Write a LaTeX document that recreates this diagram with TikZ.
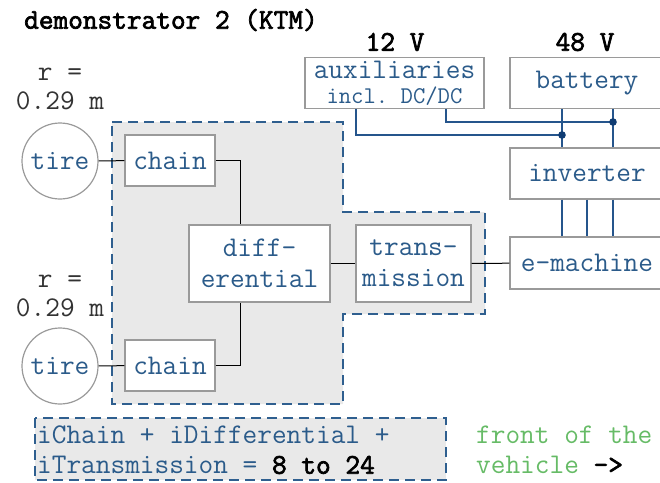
\documentclass[tikz,border=0pt]{standalone}
\usepackage{fontspec}
\setmonofont{Latin Modern Mono}[AutoFakeBold=2.5]
\definecolor{txtblue}{HTML}{2B5B8A}
\definecolor{lineblue}{HTML}{25558C}
\definecolor{dotblue}{HTML}{0F3C73}
\definecolor{boxgray}{HTML}{9A9A9A}
\definecolor{fillgray}{HTML}{E9E9E9}
\definecolor{dashblue}{HTML}{2F5F8F}
\definecolor{frontgreen}{HTML}{66BB66}
\newcommand{\bigmono}{\ttfamily\fontsize{28.5}{33}\selectfont}
\newcommand{\smallmono}{\fontsize{24}{27}\selectfont}
\tikzset{
  blk/.style={draw=boxgray, line width=1.2pt, fill=white, text=txtblue, inner sep=0pt, align=center},
  tirec/.style={circle, draw=boxgray, line width=1.2pt, fill=white, text=txtblue, minimum size=76pt, inner sep=0pt},
  region/.style={draw=dashblue, line width=1.6pt, fill=fillgray, dash pattern=on 10pt off 6pt},
  mech/.style={draw=black, line width=1pt},
  elec/.style={draw=lineblue, line width=1.3pt},
  lbl/.style={inner sep=0pt, text=black!80, align=center},
  volt/.style={inner sep=0pt, font=\bigmono\bfseries}
}
\begin{document}
\begin{tikzpicture}[x=1pt,y=-1pt, font=\bigmono]
\useasboundingbox (0,0) rectangle (660,482);
\begin{scope}
\clip (0,0) rectangle (660,482);
% regions
\draw[region] (112,122) -- (343,122) -- (343,212) -- (485,212) -- (485,314) -- (343,314) -- (343,404) -- (112,404) -- cycle;
\draw[region] (35,418) rectangle (446,480);
% title and labels
\node[anchor=west, inner sep=0pt, font=\bigmono\bfseries] (title) at (24,20) {demonstrator 2 (KTM)};
\node[volt] (v12) at (395,42) {12 V};
\node[volt] (v48) at (585,42) {48 V};
\node[lbl] (r1) at (60,89) {r =\\[-4pt]0.29 m};
\node[lbl] (r2) at (60,296) {r =\\[-4pt]0.29 m};
% blocks
\node[tirec] (tire1) at (60,161) {tire};
\node[tirec] (tire2) at (60,366) {tire};
\node[blk, minimum width=90pt, minimum height=51pt] (chain1) at (170,160.5) {chain};
\node[blk, minimum width=90pt, minimum height=51pt] (chain2) at (170,365.5) {chain};
\node[blk, minimum width=141pt, minimum height=77pt] (diff) at (259.5,263.5) {diff-\\[-2pt]erential};
\node[blk, minimum width=115pt, minimum height=77pt] (trans) at (413.5,263.5) {trans-\\[-2pt]mission};
\node[blk, minimum width=179pt, minimum height=51pt] (aux) at (394.5,83) {auxiliaries\\[-8pt]{\smallmono incl. DC/DC}};
\node[blk, minimum width=154pt, minimum height=51pt] (battery) at (587,83) {battery};
\node[blk, minimum width=154pt, minimum height=51pt] (inverter) at (587,173.5) {inverter};
\node[blk, minimum width=154pt, minimum height=52pt] (emachine) at (587,263) {e-machine};
% mechanical connectors
\draw[mech] (tire1) -- (chain1);
\draw[mech] (tire2) -- (chain2);
\draw[mech] (chain1.east) -| ([xshift=-19.5pt]diff.north);
\draw[mech] (chain2.east) -| ([xshift=-19.5pt]diff.south);
\draw[mech] (diff) -- (trans);
\draw[mech] (trans) -- (emachine);
% electrical connectors
\coordinate (j1) at (562,135);
\coordinate (j2) at (613,122);
\draw[elec] ([xshift=-38.5pt]aux.south) |- (j1);
\draw[elec] ([xshift=51.5pt]aux.south) |- (j2);
\draw[elec] (battery.south -| j1) -- (inverter.north -| j1);
\draw[elec] (battery.south -| j2) -- (inverter.north -| j2);
\draw[elec] (inverter.south -| j1) -- (emachine.north -| j1);
\draw[elec] (inverter.south) -- (emachine.north);
\draw[elec] (inverter.south -| j2) -- (emachine.north -| j2);
\fill[dotblue] (j1) circle (3.8pt);
\fill[dotblue] (j2) circle (3.8pt);
% ratio text
\node[anchor=west, inner sep=0pt, text=txtblue] (ratio1) at (37,435) {iChain + iDifferential +};
\node[anchor=west, inner sep=0pt, text=txtblue] (ratio2) at (37,465) {iTransmission = \textcolor{black}{\bfseries 8 to 24}};
\node[anchor=west, inner sep=0pt, text=frontgreen] (front1) at (476,435) {front of the};
\node[anchor=west, inner sep=0pt, text=frontgreen] (front2) at (476,465) {vehicle \textcolor{black}{\bfseries ->}};
\end{scope}
\end{tikzpicture}
\end{document}
